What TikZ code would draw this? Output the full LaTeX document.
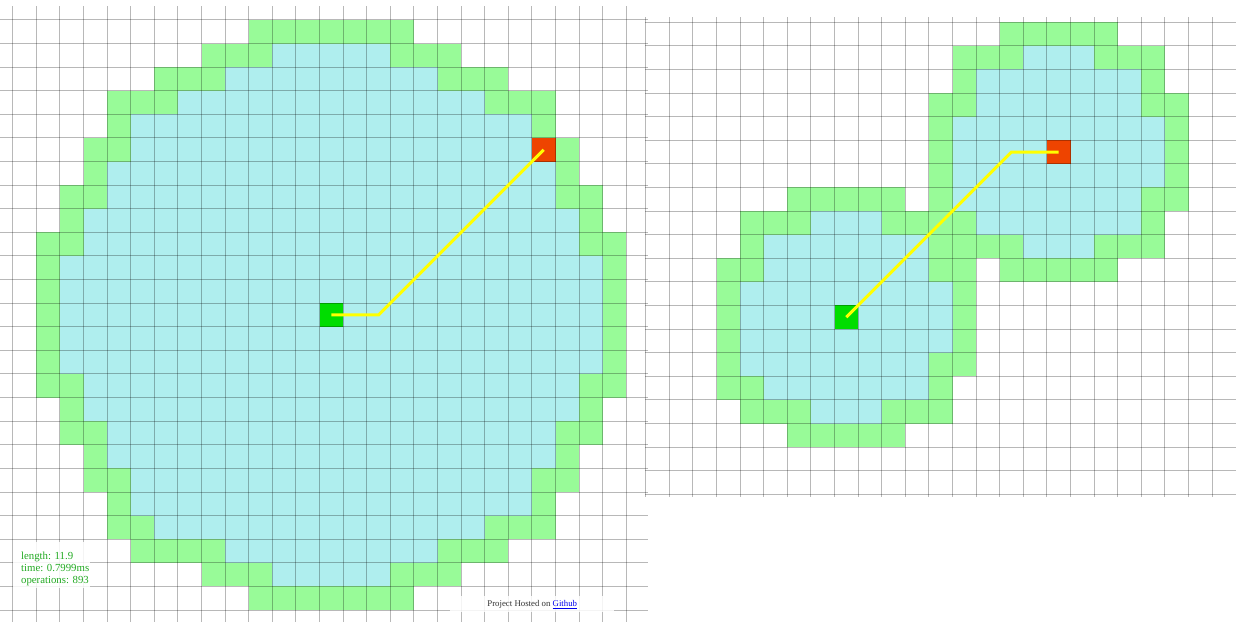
\documentclass[tikz,border=0pt]{standalone}
\usepackage{fontspec}
\setmainfont{Liberation Serif}
\usepackage{tikz}
\definecolor{opengreen}{HTML}{98FB98}
\definecolor{closedblue}{HTML}{AFEEEE}
\definecolor{startgreen}{HTML}{00DD00}
\definecolor{endred}{HTML}{EE4400}
\definecolor{pathyellow}{HTML}{FFFF00}
\definecolor{infogreen}{HTML}{22AA22}
\definecolor{linkblue}{HTML}{0000EE}
\tikzset{
  gridline/.style={black, draw opacity=0.28, line width=0.5pt},
  pathline/.style={pathyellow, line width=1.5pt},
  infotext/.style={infogreen, inner sep=0pt, anchor=base west, font=\fontsize{5.4}{6}\selectfont},
  textbg/.style={white, fill opacity=0.85},
}

\begin{document}
\begin{tikzpicture}[x=0.5pt, y=-0.5pt]
  \useasboundingbox (0,0) rectangle (1236,625);
  \fill[white] (0,0) rectangle (1236,625);

  % left map
  \begin{scope}[xshift=6.35pt, yshift=-10pt, x=11.8pt, y=-11.8pt]
    \foreach \r/\a/\b in {1/11/15, 2/9/17, 3/7/19, 4/5/21, 5/5/21, 6/4/22, 7/4/22, 8/3/23, 9/3/23,
        10/2/24, 11/2/24, 12/2/24, 13/2/24, 14/2/24, 15/3/23, 16/3/23, 17/4/22, 18/4/22,
        19/5/21, 20/5/21, 21/6/19, 22/9/17, 23/11/15}
      \fill[closedblue] (\a,\r) rectangle (\b+1,\r+1);
    \foreach \r/\a/\b in {0/10/16, 1/8/10, 1/16/18, 2/6/8, 2/18/20, 3/4/6, 3/20/22, 4/4/4, 4/22/22,
        5/3/4, 5/23/23, 6/3/3, 6/23/23, 7/2/3, 7/23/24, 8/2/2, 8/24/24, 9/1/2, 9/24/25,
        10/1/1, 10/25/25, 11/1/1, 11/25/25, 12/1/1, 12/25/25, 13/1/1, 13/25/25, 14/1/1, 14/25/25,
        15/1/2, 15/24/25, 16/2/2, 16/24/24, 17/2/3, 17/23/24, 18/3/3, 18/23/23, 19/3/4, 19/22/23,
        20/4/4, 20/22/22, 21/4/5, 21/20/22, 22/5/8, 22/18/20, 23/8/10, 23/16/18, 24/10/16}
      \fill[opengreen] (\a,\r) rectangle (\b+1,\r+1);
    \fill[startgreen] (13,12) rectangle (14,13);
    \fill[endred] (22,5) rectangle (23,6);
    \foreach \c in {0,...,26}
      \draw[gridline] (\c,-0.59) -- (\c,25.51);
    \foreach \r in {0,...,25}
      \draw[gridline] (-0.54,\r) -- (26.92,\r);
    \coordinate (lstart) at (13.5,12.5);
    \coordinate (lend) at (22.5,5.5);
    \draw[pathline] (lstart) -- ++(2,0) -- (lend);
  \end{scope}

  % right map
  \begin{scope}[xshift=322.85pt, yshift=-11.15pt, x=11.8pt, y=-11.8pt]
    \foreach \r/\a/\b in {1/16/18, 2/14/20, 3/14/20, 4/13/21, 5/13/21, 6/13/21, 7/13/20, 8/7/9, 8/14/20,
        9/5/11, 9/16/18, 10/5/11, 11/4/12, 12/4/12, 13/4/12, 14/4/11, 15/5/11, 16/7/9}
      \fill[closedblue] (\a,\r) rectangle (\b+1,\r+1);
    \foreach \r/\a/\b in {0/15/19, 1/13/15, 1/19/21, 2/13/13, 2/21/21, 3/12/13, 3/21/22, 4/12/12, 4/22/22,
        5/12/12, 5/22/22, 6/12/12, 6/22/22, 7/6/10, 7/12/12, 7/21/22, 8/4/6, 8/10/13, 8/21/21,
        9/4/4, 9/12/15, 9/19/21, 10/3/4, 10/12/13, 10/15/19, 11/3/3, 11/13/13, 12/3/3, 12/13/13,
        13/3/3, 13/13/13, 14/3/3, 14/12/13, 15/3/4, 15/12/12, 16/4/6, 16/10/12, 17/6/10}
      \fill[opengreen] (\a,\r) rectangle (\b+1,\r+1);
    \fill[startgreen] (8,12) rectangle (9,13);
    \fill[endred] (17,5) rectangle (18,6);
    \foreach \c in {0,...,24}
      \draw[gridline] (\c,-0.22) -- (\c,20.11);
    \foreach \r in {0,...,20}
      \draw[gridline] (-0.03,\r) -- (25.01,\r);
    \coordinate (rstart) at (8.5,12.5);
    \coordinate (rend) at (17.5,5.5);
    \draw[pathline] (rstart) -- (15.5,5.5) -- (rend);
  \end{scope}

  \fill[textbg] (13,542) rectangle (90,588);
  \node[infotext] (lenlabel) at (20.7,559) {length: 11.9};
  \node[infotext] (timelabel) at (20.7,571) {time: 0.7999ms};
  \node[infotext] (opslabel) at (20.7,583) {operations: 893};

  \fill[textbg] (450,596) rectangle (614,612);
  \node[inner sep=0pt, anchor=base west, text=black!80, font=\fontsize{4.4}{5}\selectfont] (hostlabel)
    at (487,606) {Project Hosted on \textcolor{linkblue}{\underline{Github}}};
\end{tikzpicture}
\end{document}
